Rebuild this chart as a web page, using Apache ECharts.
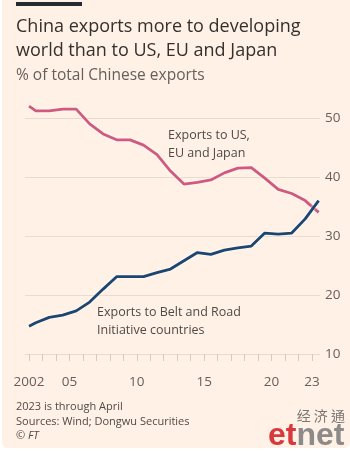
<!DOCTYPE html>
<html>
<head>
<meta charset="utf-8">
<script src="https://cdn.jsdelivr.net/npm/echarts@6/dist/echarts.min.js"></script>
<style>
	html, body { margin: 0; padding: 0; background: #fff; }
	#panel { position: absolute; left: 2px; top: 0; width: 348px; height: 448px; background: #fff1e5; border-radius: 0 0 6px 6px; }
	#chart { position: absolute; left: 0; top: 0; width: 350px; height: 453px; }
</style>
</head>
<body>
<div id="panel"></div>
<div id="chart"></div>
<script>
// China exports: share going to US/EU/Japan vs Belt and Road countries
var years = [2002, 2002.5, 2003.5, 2004.5, 2005.5, 2006.5, 2007.5, 2008.5, 2009.5, 2010.5, 2011.5,
	2012.5, 2013.5, 2014.5, 2015.5, 2016.5, 2017.5, 2018.5, 2019.5, 2020.5, 2021.5, 2022.5, 2023.5];
// % of total Chinese exports
var usEuJapan = [52.0, 51.2, 51.2, 51.5, 51.5, 49.0, 47.3, 46.3, 46.3, 45.4, 43.8,
	41.0, 38.8, 39.1, 39.5, 40.7, 41.5, 41.6, 39.8, 37.9, 37.2, 36.0, 34.0];
var beltRoad = [14.7, 15.3, 16.2, 16.6, 17.3, 18.8, 21.0, 23.1, 23.1, 23.1, 23.8,
	24.4, 25.8, 27.2, 26.9, 27.6, 28.0, 28.3, 30.5, 30.3, 30.5, 32.9, 36.0];
// axis ticks
var labelYears = [2002, 2005, 2010, 2015, 2020, 2023];
var tickYears = [];
for (var y = 2002; y <= 2023; y++) tickYears.push(y);

var grey = '#66605c';
var dark = '#4f4a47';
var font = 'Open Sans';

var pairs = function(vals) {
	return years.map(function(yr, i) { return [yr, vals[i]]; });
};

var txt = function(x, y, text, size, color, extra) {
	var s = { text: text, x: x, y: y, fontSize: size, fontFamily: font, fill: color, verticalAlign: 'middle' };
	for (var k in extra) s[k] = extra[k];
	return { type: 'text', style: s, silent: true };
};

var myChart = echarts.init(document.getElementById('chart'), null, { renderer: 'canvas' });
var option = {
	backgroundColor: 'transparent',
	animation: false,
	grid: { left: 25, right: 30, top: 118, bottom: 99 },
	xAxis: {
		type: 'value',
		min: 2001.7,
		max: 2023.6,
		axisLine: { show: false },
		splitLine: { show: false },
		axisTick: { show: true, customValues: tickYears, length: 7, lineStyle: { color: '#d6c9be', width: 1 } },
		axisLabel: {
			customValues: labelYears,
			margin: 21,
			fontSize: 13.5,
			fontFamily: font,
			color: grey,
			formatter: function(v) { return v === 2002 ? '2002' : String(v).slice(2); }
		}
	},
	yAxis: {
		type: 'value',
		position: 'right',
		min: 10,
		max: 50,
		interval: 10,
		axisLine: { show: false },
		axisTick: { show: false },
		splitLine: { lineStyle: { color: '#e8dbd0', width: 1 } },
		axisLabel: { margin: 5, fontSize: 13.5, fontFamily: font, color: grey, align: 'left' }
	},
	series: [
		{
			type: 'line',
			data: pairs(usEuJapan),
			symbol: 'none',
			clip: false,
			lineStyle: { color: '#cf5a7e', width: 2.8, shadowColor: 'rgba(255,255,255,0.9)', shadowBlur: 3 }
		},
		{
			type: 'line',
			data: pairs(beltRoad),
			symbol: 'none',
			clip: false,
			lineStyle: { color: '#1c4670', width: 2.8, shadowColor: 'rgba(255,255,255,0.9)', shadowBlur: 3 }
		}
	],
	graphic: [
		{ type: 'rect', shape: { x: 16, y: 2, width: 66, height: 4 }, style: { fill: '#262a33' }, silent: true },
		txt(16, 27, 'China exports more to developing', 18, '#33302e'),
		txt(16, 51, 'world than to US, EU and Japan', 18, '#33302e'),
		txt(16, 76, '% of total Chinese exports', 15.5, grey),
		txt(168, 135, 'Exports to US,', 12.5, dark),
		txt(168, 153, 'EU and Japan', 12.5, dark),
		txt(97, 312, 'Exports to Belt and Road', 12.5, dark),
		txt(97, 330, 'Initiative countries', 12.5, dark),
		txt(16, 407, '2023 is through April', 11, dark),
		txt(16, 422, 'Sources: Wind; Dongwu Securities', 11, dark),
		txt(16, 436, '\u00a9 FT', 11, dark, { fontStyle: 'italic' }),
		txt(345, 416, '经 济 通', 14, '#7a7673', { fontFamily: 'Noto Sans CJK TC', align: 'right' }),
		{
			type: 'text', silent: true,
			style: {
				x: 268, y: 452, verticalAlign: 'bottom',
				text: '{a|et}{b|net}',
				rich: {
					a: { fontSize: 32, fontWeight: 'bold', fontFamily: 'Liberation Sans', fill: '#d8393c' },
					b: { fontSize: 32, fontWeight: 'bold', fontFamily: 'Liberation Sans', fill: '#8d8b8a' }
				}
			}
		}
	]
};
myChart.setOption(option);
</script>
</body>
</html>
